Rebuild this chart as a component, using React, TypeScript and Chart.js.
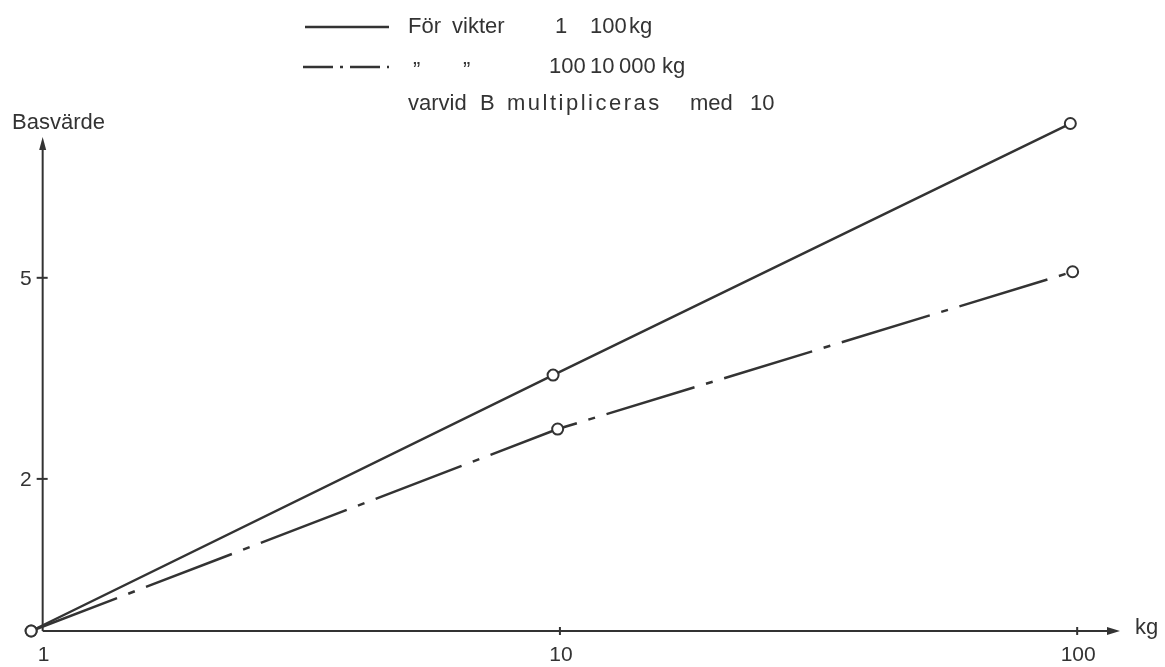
import React, { useEffect, useRef } from "react";
import { Chart, registerables } from "chart.js";

Chart.register(...registerables);

// ---- data ----
const xTickValues = [1, 10, 100];
const xTickLabels = ["1", "10", "100"];
const yTickValues = [2, 5];
const yTickLabels = ["2", "5"];

const solidKg = [0.95, 9.7, 97];
const solidB = [1, 3.21, 10.1];
const dashKg = [0.95, 9.9, 98];
const dashB = [1, 2.51, 5.14];

const xRange = [0.9, 121];
const yRange = [1, 10.5];
const xAxisStart = 1;
const yAxisTop = 9.5;

const solidLabel = "För vikter 1 100 kg";
const dashLabel = "\u201D \u201D 100 10 000 kg";
const noteLabel = "varvid B multipliceras med 10";
const yTitle = "Basvärde";
const xTitle = "kg";

const INK = "#333333";
const FONT = "'Liberation Sans', Arial, sans-serif";

const toPoints = (xs: number[], ys: number[]) => xs.map((x, i) => ({ x, y: ys[i] }));

const axesPlugin = {
  id: "drawnAxes",
  beforeDatasetsDraw(chart: any) {
    const { ctx, chartArea: a, scales } = chart;
    const x = scales.x;
    const y = scales.y;
    const ox = x.getPixelForValue(xAxisStart);
    const oy = y.getPixelForValue(yRange[0]);
    const top = y.getPixelForValue(yAxisTop);
    ctx.save();
    ctx.strokeStyle = INK;
    ctx.fillStyle = INK;
    ctx.lineWidth = 2;
    // x axis with arrow
    ctx.beginPath();
    ctx.moveTo(ox, oy);
    ctx.lineTo(a.right - 8, oy);
    ctx.stroke();
    ctx.beginPath();
    ctx.moveTo(a.right, oy);
    ctx.lineTo(a.right - 13, oy - 4);
    ctx.lineTo(a.right - 13, oy + 4);
    ctx.closePath();
    ctx.fill();
    // y axis with arrow
    ctx.beginPath();
    ctx.moveTo(ox, oy);
    ctx.lineTo(ox, top + 8);
    ctx.stroke();
    ctx.beginPath();
    ctx.moveTo(ox, top);
    ctx.lineTo(ox - 3.5, top + 13);
    ctx.lineTo(ox + 3.5, top + 13);
    ctx.closePath();
    ctx.fill();

    ctx.font = `21px ${FONT}`;
    ctx.textBaseline = "middle";
    // x ticks
    ctx.textAlign = "center";
    xTickValues.forEach((v, i) => {
      const px = x.getPixelForValue(v);
      if (px > ox + 2) {
        ctx.beginPath();
        ctx.moveTo(px, oy - 4);
        ctx.lineTo(px, oy + 4);
        ctx.stroke();
      }
      ctx.fillText(xTickLabels[i], px + 1, oy + 24);
    });
    // y ticks
    ctx.textAlign = "right";
    yTickValues.forEach((v, i) => {
      const py = y.getPixelForValue(v);
      ctx.beginPath();
      ctx.moveTo(ox - 6, py);
      ctx.lineTo(ox + 5, py);
      ctx.stroke();
      ctx.fillText(yTickLabels[i], ox - 11, py + 1);
    });
    // axis titles
    ctx.font = `22px ${FONT}`;
    ctx.textAlign = "left";
    ctx.fillText(yTitle, 12, top - 14);
    ctx.fillText(xTitle, a.right + 15, oy - 3);
    ctx.restore();
  },
  afterDraw(chart: any) {
    const { ctx } = chart;
    ctx.save();
    ctx.strokeStyle = INK;
    ctx.fillStyle = INK;
    ctx.lineWidth = 2.5;
    // legend samples
    ctx.beginPath();
    ctx.moveTo(305, 27);
    ctx.lineTo(389, 27);
    ctx.stroke();
    ctx.setLineDash([30, 7, 3, 7]);
    ctx.beginPath();
    ctx.moveTo(303, 67);
    ctx.lineTo(389, 67);
    ctx.stroke();
    ctx.setLineDash([]);

    ctx.font = `22px ${FONT}`;
    ctx.textBaseline = "middle";
    ctx.textAlign = "left";
    const s = solidLabel.split(" "); // För vikter 1 100 kg
    ctx.fillText(s[0], 408, 27);
    ctx.fillText(s[1], 452, 27);
    ctx.fillText(s[2], 555, 27);
    ctx.fillText(s[3], 590, 27);
    ctx.fillText(s[4], 629, 27);
    const d = dashLabel.split(" "); // ” ” 100 10 000 kg
    ctx.fillText(d[0], 413, 71);
    ctx.fillText(d[1], 463, 71);
    ctx.fillText(d[2], 549, 67);
    ctx.fillText(d[3], 590, 67);
    ctx.fillText(d[4], 619, 67);
    ctx.fillText(d[5], 662, 67);
    const n = noteLabel.split(" "); // varvid B multipliceras med 10
    ctx.fillText(n[0], 408, 104);
    ctx.fillText(n[1], 480, 104);
    (ctx as any).letterSpacing = "2.5px";
    ctx.fillText(n[2], 507, 104);
    (ctx as any).letterSpacing = "0px";
    ctx.fillText(n[3], 690, 104);
    ctx.fillText(n[4], 750, 104);
    ctx.restore();
  },
};

export default function App() {
  const ref = useRef<HTMLCanvasElement | null>(null);
  useEffect(() => {
    if (!ref.current) return;
    const common = {
      borderColor: INK,
      borderWidth: 2.5,
      pointRadius: 5.5,
      pointBorderWidth: 2,
      pointBorderColor: INK,
      pointBackgroundColor: "#ffffff",
      fill: false,
      tension: 0,
      clip: false as any,
    };
    const chart = new Chart(ref.current, {
      type: "line",
      data: {
        datasets: [
          { ...common, label: solidLabel, data: toPoints(solidKg, solidB) },
          {
            ...common,
            label: dashLabel,
            data: toPoints(dashKg, dashB),
            borderDash: [92, 12, 7, 12],
          },
        ],
      },
      options: {
        responsive: false,
        animation: false,
        events: [],
        layout: { padding: { left: 19, right: 45, top: 115, bottom: 36 } },
        plugins: { legend: { display: false }, tooltip: { enabled: false } },
        scales: {
          x: { type: "logarithmic", min: xRange[0], max: xRange[1], display: false },
          y: { type: "logarithmic", min: yRange[0], max: yRange[1], display: false },
        },
      },
      plugins: [axesPlugin],
    });
    return () => chart.destroy();
  }, []);
  return (
    <div style={{ position: "fixed", left: 0, top: 0, width: 1165, height: 667, background: "#fff" }}>
      <canvas ref={ref} width={1165} height={667} style={{ display: "block", width: 1165, height: 667 }} />
    </div>
  );
}
